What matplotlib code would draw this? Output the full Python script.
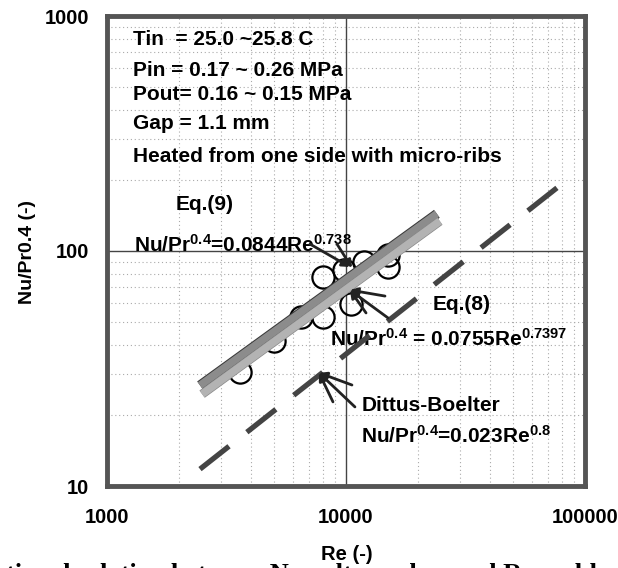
import matplotlib
matplotlib.use('Agg')
import matplotlib.pyplot as plt
import matplotlib.patheffects as pe
from matplotlib.ticker import NullFormatter

plt.rcParams['font.family'] = ['Liberation Sans', 'DejaVu Sans']
plt.rcParams['font.weight'] = 'bold'
plt.rcParams['mathtext.fontset'] = 'custom'
plt.rcParams['mathtext.rm'] = 'Liberation Sans:bold'
plt.rcParams['mathtext.it'] = 'Liberation Sans:bold'
plt.rcParams['mathtext.bf'] = 'Liberation Sans:bold'
plt.rcParams['mathtext.default'] = 'rm'

# measured points (Re, Nu/Pr^0.4)
re_data = [3590, 4980, 6470, 8000, 10500, 8000, 9800, 11900, 15000, 15000]
nu_data = [30.5, 41.3, 52.2, 52.2, 59.3, 77.2, 83.4, 90.2, 96.6, 85.1]

# correlation lines, end points
eq9_re = [2450, 24000]
eq9_nu = [26.8, 144]
eq8_re = [2500, 24700]
eq8_nu = [24.6, 134]
db_re = [2450, 76500]
db_nu = [11.8, 186]

xticks = [1000, 10000, 100000]
yticks = [10, 100, 1000]

info_lines = ['Tin  = 25.0 ~25.8 C',
              'Pin = 0.17 ~ 0.26 MPa',
              'Pout= 0.16 ~ 0.15 MPa',
              'Gap = 1.1 mm',
              'Heated from one side with micro-ribs']
info_y = [0.949, 0.883, 0.832, 0.772, 0.700]

fig = plt.figure(figsize=(6.18, 5.68), dpi=100)
ax = fig.add_axes([107 / 618, 82 / 568, 478 / 618, 470 / 568])
ax.set_xscale('log')
ax.set_yscale('log')
ax.set_xlim(1000, 100000)
ax.set_ylim(10, 1000)

ax.set_xticks(xticks)
ax.set_xticklabels([str(t) for t in xticks])
ax.set_yticks(yticks)
ax.set_yticklabels([str(t) for t in yticks])
ax.xaxis.set_minor_formatter(NullFormatter())
ax.yaxis.set_minor_formatter(NullFormatter())
ax.tick_params(which='both', length=0, labelsize=14.5)
ax.tick_params(axis='x', pad=16)
ax.tick_params(axis='y', pad=13)

ax.grid(which='major', color='#444444', lw=1.0, ls='-', zorder=0)
ax.grid(which='minor', color='#aaaaaa', lw=0.8, ls=(0, (1, 2.5)), zorder=0)
ax.set_axisbelow(True)
for sp in ax.spines.values():
    sp.set_linewidth(3.5)
    sp.set_color('#555555')

# data points
ax.plot(re_data, nu_data, 'o', ms=16, mfc='none', mec='black', mew=1.6, zorder=3)

# correlations
ax.plot(eq9_re, eq9_nu, color='#8c8c8c', lw=5.5, solid_capstyle='butt', zorder=4,
        path_effects=[pe.Stroke(linewidth=7, foreground='#3a3a3a'), pe.Normal()])
ax.plot(eq8_re, eq8_nu, color='#b3b3b3', lw=5.5, solid_capstyle='butt', zorder=4,
        path_effects=[pe.Stroke(linewidth=6.5, foreground='#8a8a8a'), pe.Normal()])
ax.plot(db_re, db_nu, color='#444444', lw=3.8, ls=(0, (7.0, 4.3)),
        dash_capstyle='butt', zorder=4)

# text block
for s, y in zip(info_lines, info_y):
    ax.text(0.054, y, s, transform=ax.transAxes, fontsize=15, va='center', ha='left')

ax.text(0.205, 0.600, 'Eq.(9)', transform=ax.transAxes, fontsize=15, va='center', ha='center')
ax.text(0.056, 0.514, r'Nu/Pr$^{0.4}$=0.0844Re$^{0.738}$', transform=ax.transAxes,
        fontsize=15, va='center', ha='left')
ax.text(0.741, 0.387, 'Eq.(8)', transform=ax.transAxes, fontsize=15, va='center', ha='center')
ax.text(0.466, 0.313, r'Nu/Pr$^{0.4}$ = 0.0755Re$^{0.7397}$', transform=ax.transAxes,
        fontsize=15, va='center', ha='left')
ax.text(0.532, 0.172, 'Dittus-Boelter', transform=ax.transAxes, fontsize=15,
        va='center', ha='left')
ax.text(0.532, 0.106, r'Nu/Pr$^{0.4}$=0.023Re$^{0.8}$', transform=ax.transAxes,
        fontsize=15, va='center', ha='left')

# pointer arrows
arrow_kw = dict(arrowstyle='-|>', color='#222222', lw=2.0, mutation_scale=11,
                shrinkA=0, shrinkB=0)
arrows = [
    ((7069, 107), (10390, 85.5)),
    ((9170, 107), (10600, 84.7)),
    ((14560, 64.3), (10390, 68.2)),
    ((12130, 54.5), (10390, 68.2)),
    ((14990, 51.9), (10390, 68.2)),
    ((10590, 26.9), (7710, 30.3)),
    ((8820, 22.8), (7710, 30.3)),
    ((10900, 21.7), (7710, 30.3)),
]
for src, dst in arrows:
    ax.annotate('', xy=dst, xytext=src, arrowprops=arrow_kw, zorder=5)

fig.text(28 / 618, 1 - 252 / 568, 'Nu/Pr0.4 (-)', rotation=90, fontsize=14,
         ha='center', va='center')
fig.text(347 / 618, 1 - 555 / 568, 'Re (-)', fontsize=14.5, ha='center', va='center')
fig.text(6 / 618, -13 / 568, 'tional relation between Nusselt number and Reynolds',
         fontsize=19, family='Liberation Serif', ha='left', va='baseline')

fig.savefig('out.png', dpi=100)
